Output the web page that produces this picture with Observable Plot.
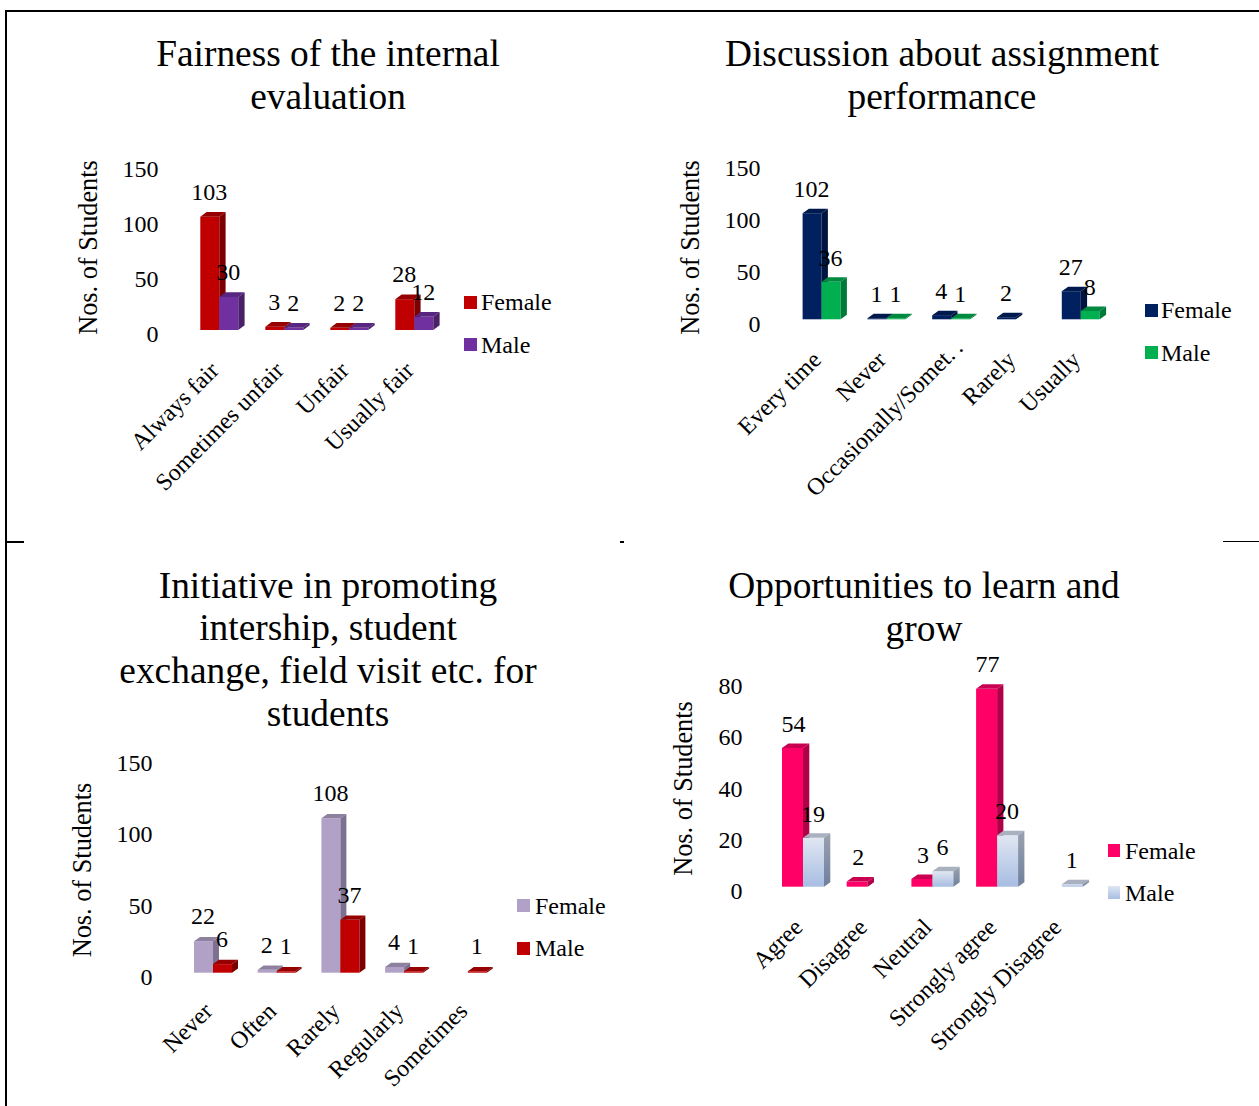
<!DOCTYPE html>
<html>
<head>
<meta charset="utf-8">
<script src="https://cdn.jsdelivr.net/npm/d3@7"></script>
<script src="https://cdn.jsdelivr.net/npm/@observablehq/plot@0.6"></script>
<style>
html,body{margin:0;padding:0;background:#fff;}
#page{position:relative;width:1259px;height:1106px;overflow:hidden;font-family:"Liberation Serif",serif;color:#000;}
#page svg{position:absolute;overflow:visible;background:transparent;}
.title{position:absolute;text-align:center;font-size:37.4px;line-height:43px;white-space:nowrap;transform:translateX(-50%);}
.lg{position:absolute;font-size:24px;line-height:28px;white-space:nowrap;transform:translateY(-50%);}
.sw{position:absolute;width:12.5px;height:13px;}
.ln{position:absolute;background:#000;}
</style>
</head>
<body>
<div id="page"></div>
<script>
const fairnessCats = ["Always fair","Sometimes unfair","Unfair","Usually fair"];
const fairnessFemale = [103,3,2,28];
const fairnessMale = [30,2,2,12];

const discussionCats = ["Every time","Never","Occasionally/Somet.\u2009.","Rarely","Usually"];
const discussionFemale = [102,1,4,2,27];
const discussionMale = [36,1,1,null,8];

const initiativeCats = ["Never","Often","Rarely","Regularly","Sometimes"];
const initiativeFemale = [22,2,108,4,null];
const initiativeMale = [6,1,37,1,1];

const learnCats = ["Agree","Disagree","Neutral","Strongly agree","Strongly Disagree"];
const learnFemale = [54,2,3,77,null];
const learnMale = [19,null,6,20,1];

const yLabel = "Nos. of Students";
const page = document.getElementById("page");

function el(cls, style, text){
  const d = document.createElement("div");
  d.className = cls;
  Object.assign(d.style, style);
  if (text) d.innerHTML = text;
  page.appendChild(d);
  return d;
}

function rows(cats, vals){
  return cats.map((cat,i)=>({cat, value: vals[i]})).filter(d=>d.value!=null);
}

function bars3d(data, dx, bw, depth, col){
  return Plot.barY(data, {
    x:"cat", y:"value", y1:0, y2:"value", fill: col.front, dx, dy:0,
    render(index, scales, values, dims, ctx, next){
      const g = next(index, scales, values, dims, ctx);
      const ns = "http://www.w3.org/2000/svg";
      g.querySelectorAll("rect").forEach(r=>{
        const x=+r.getAttribute("x"), y=+r.getAttribute("y"), w=+r.getAttribute("width"), h=+r.getAttribute("height");
        const add=(pts,fill)=>{
          const p=document.createElementNS(ns,"polygon");
          p.setAttribute("points",pts.map(q=>q.join(",")).join(" "));
          p.setAttribute("fill",fill);
          g.appendChild(p);
        };
        add([[x,y],[x+depth[0],y-depth[1]],[x+w+depth[0],y-depth[1]],[x+w,y]],col.top);
        add([[x+w,y],[x+w+depth[0],y-depth[1]],[x+w+depth[0],y+h-depth[1]],[x+w,y+h]],col.side);
      });
      return g;
    }
  });
}

function panel(o){
  const fem = rows(o.cats,o.female), mal = rows(o.cats,o.male);
  const n = o.cats.length;
  const p = 1 - o.bw/o.step;
  const x0 = o.center - o.step/2 - o.left;
  const base = o.base - o.top;
  const fd = o.femaleLabelDx ?? -1;
  const plot = Plot.plot({
    width:o.width, height:o.height,
    marginLeft:o.tickRight-o.left, marginRight:0, marginTop:0, marginBottom:o.height-base,
    style:{fontFamily:'"Liberation Serif",serif',background:"transparent",overflow:"visible",color:"#000"},
    x:{type:"band",domain:o.cats,range:[x0,x0+n*o.step],paddingInner:p,paddingOuter:p/2,align:0.5,round:false,label:null},
    y:{domain:[0,o.ymax],range:[base,base-o.ymax*o.k],label:null},
    marks:[
      ()=>{
        const s=d3.create("svg:defs");
        if(o.gradients) for(const [id,c0,c1] of o.gradients){
          const lg=s.append("linearGradient").attr("id",id).attr("x1",0).attr("y1",0).attr("x2",0).attr("y2",1);
          lg.append("stop").attr("offset","0%").attr("stop-color",c0);
          lg.append("stop").attr("offset","100%").attr("stop-color",c1);
        }
        return s.node();
      },
      Plot.axisY({ticks:o.ticks,tickSize:0,tickPadding:0,fontSize:24,dy:o.tickDy,label:null}),
      Plot.axisX({tickSize:0,tickRotate:-45,tickPadding:o.xPad,dx:-5,fontSize:24,label:null}),
      bars3d(fem,-o.bw/2,o.bw,o.depth,o.fcol),
      bars3d(mal,o.bw/2,o.bw,o.depth,o.mcol),
      Plot.text(fem,{x:"cat",y:"value",text:"value",dx:-o.bw/2+fd,dy:-o.labelUp,fontSize:24}),
      Plot.text(mal,{x:"cat",y:"value",text:"value",dx:o.bw/2-1,dy:-o.labelUp,fontSize:24}),
      Plot.text([yLabel],{frameAnchor:"left",textAnchor:"middle",rotate:-90,dx:o.yTitleX-o.tickRight,dy:o.yTitleY-(o.top+base/2),fontSize:26.3})
    ]
  });
  plot.style.left=o.left+"px";
  plot.style.top=o.top+"px";
  page.appendChild(plot);

  // the truncated label overhangs its tick along its own slant
  d3.select(plot).selectAll("text")
    .filter(function(){ return this.textContent.includes("Somet."); })
    .attr("transform", function(){ return this.getAttribute("transform")+" translate(17,0)"; });

  o.title.forEach((t,i)=>el("title",{left:o.titleX+"px",top:(o.titleY+i*o.titleStep-22.5)+"px"},t));
  const sw=(y,bg)=>el("sw",{left:o.lgX+"px",top:y+"px",background:bg});
  sw(o.lgY[0],o.fcol.swatch||o.fcol.front);
  sw(o.lgY[1],o.mcol.swatch||o.mcol.front);
  el("lg",{left:o.lgT+"px",top:(o.lgTextY[0])+"px"},"Female");
  el("lg",{left:o.lgT+"px",top:(o.lgTextY[1])+"px"},"Male");
}

panel({
  cats:fairnessCats,female:fairnessFemale,male:fairnessMale,
  left:60,top:150,width:400,height:350,base:330,center:219.3,step:65,bw:19,k:1.1,ymax:150,ticks:[0,50,100,150],
  tickRight:158,tickDy:4,xPad:36,depth:[6.3,4.7],labelUp:25,
  fcol:{front:"#C00000",side:"#7d0000",top:"#960000"},
  mcol:{front:"#7030A0",side:"#4a2069",top:"#582680"},
  yTitleX:88,yTitleY:247,
  title:["Fairness of the internal","evaluation"],titleX:328,titleY:54,titleStep:43,
  lgX:464,lgT:481,lgY:[296,338],lgTextY:[301.5,344.5]
});
panel({
  cats:discussionCats,female:discussionFemale,male:discussionMale,
  left:660,top:150,width:460,height:350,base:319.3,center:821.6,step:64.8,bw:19,k:1.04,ymax:150,ticks:[0,50,100,150],
  tickRight:760,tickDy:5,xPad:36,depth:[6.3,4.5],labelUp:24.5,
  fcol:{front:"#002060",side:"#001440",top:"#001a4e"},
  mcol:{front:"#00B050",side:"#007a38",top:"#008a3f"},
  yTitleX:690,yTitleY:247,
  title:["Discussion about assignment","performance"],titleX:942,titleY:54,titleStep:43,
  lgX:1145,lgT:1161,lgY:[304,346],lgTextY:[309.5,352.5]
});
panel({
  cats:initiativeCats,female:initiativeFemale,male:initiativeMale,
  left:60,top:745,width:450,height:360,base:972.7,center:213,step:63.7,bw:19,k:1.43,ymax:150,ticks:[0,50,100,150],
  tickRight:152,tickDy:4.3,xPad:34,depth:[6,4.3],labelUp:25,
  fcol:{front:"#B2A1C7",side:"#7d7090",top:"#8e81a0"},
  mcol:{front:"#C00000",side:"#7d0000",top:"#960000"},
  yTitleX:82,yTitleY:869.5,
  title:["Initiative in promoting","intership, student","exchange, field visit etc. for","students"],titleX:328,titleY:586,titleStep:42.7,
  lgX:517,lgT:535,lgY:[899,942],lgTextY:[905.5,947.5]
});
panel({
  cats:learnCats,female:learnFemale,male:learnMale,
  left:660,top:650,width:440,height:420,base:886.7,center:803,step:64.7,bw:21,k:2.57,ymax:80,ticks:[0,20,40,60,80],
  tickRight:742,tickDy:4.5,xPad:36,depth:[6.3,4.5],labelUp:24.5,femaleLabelDx:0.5,
  fcol:{front:"#FF0066",side:"#b00048",top:"#c90052"},
  mcol:{front:"url(#mFront)",side:"url(#mSide)",top:"#a9b0bf",swatch:"linear-gradient(#dfe6f2,#a8bee3)"},
  gradients:[["mFront","#e0e6f2","#a7bde2"],["mSide","#9aa2b0","#6f7f9c"]],
  yTitleX:683,yTitleY:788,
  title:["Opportunities to learn and","grow"],titleX:924,titleY:586,titleStep:43,
  lgX:1107.5,lgT:1125,lgY:[844,886],lgTextY:[850.5,892.5]
});

// page frame fragments
el("ln",{left:"5px",top:"10px",width:"1254px",height:"2px"});
el("ln",{left:"5px",top:"10px",width:"2px",height:"1096px"});
el("ln",{left:"6px",top:"541px",width:"18px",height:"2px"});
el("ln",{left:"620px",top:"541px",width:"4px",height:"2px"});
el("ln",{left:"1223px",top:"541px",width:"36px",height:"1px"});
</script>
</body>
</html>
